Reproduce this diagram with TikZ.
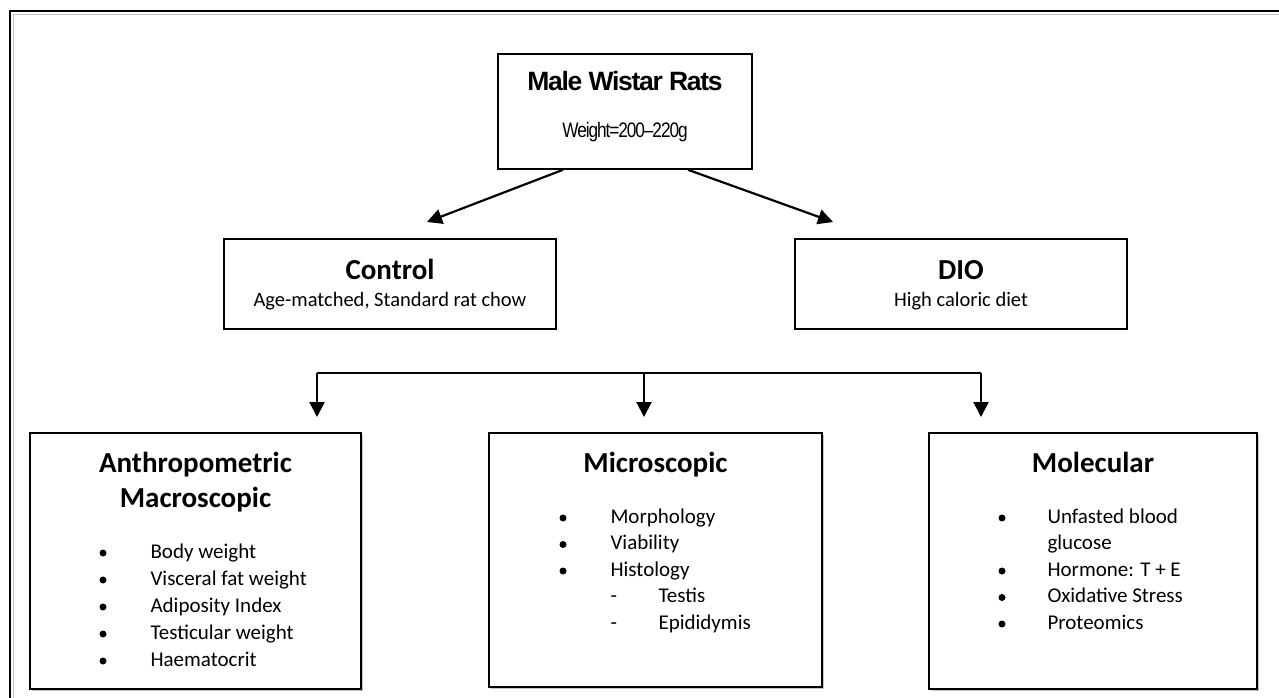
\documentclass[tikz,border=0pt]{standalone}
\usepackage{fontspec}
\usepackage{tikz}
\usetikzlibrary{arrows.meta,shadows}
\newfontfamily\arialtight[LetterSpace=-4.8]{Liberation Sans}
\newfontfamily\arialnarrow[FakeStretch=0.82,LetterSpace=-5]{Liberation Sans}
\newfontfamily\calfont{Carlito}

\tikzset{
	box/.style={draw, line width=2pt, fill=white, inner sep=0pt},
	shbox/.style={box, drop shadow={shadow xshift=2pt, shadow yshift=-2pt, fill=gray!45, opacity=1}},
	arr/.style={-{Triangle[length=15pt,width=15pt]}, line width=2.2pt},
	bul/.style={circle, fill, inner sep=0pt, minimum size=7pt},
	head/.style={anchor=base, font=\calfont\bfseries\fontsize{29}{34}\selectfont},
	item/.style={anchor=base west, font=\calfont\fontsize{21}{26}\selectfont},
}

\begin{document}
\begin{tikzpicture}[x=1pt,y=-1pt]
				\useasboundingbox (0,0) rectangle (1279,698);
				\clip (0,0) rectangle (1279,698);
				% outer frame
				\draw[gray!50, line width=1pt] (13.5,720) -- (13.5,14.5) -- (1300,14.5);
				\draw[line width=2.2pt] (10,720) -- (10,11) -- (1300,11);
				
				% rats
				\node[box, line width=1.6pt, minimum width=254pt, minimum height=115pt] (rats) at (625,111.5) {};
				\node[anchor=base, font=\arialtight\bfseries\fontsize{26.5}{30}\selectfont] (ratsname) at (625,91) {Male Wistar Rats};
				\node[anchor=base, font=\arialnarrow\fontsize{21}{24}\selectfont] (ratswt) at (625,138) {Weight=200–220g};
				
				% groups
				\node[box, minimum width=332pt, minimum height=90pt] (ctrl) at (390,284) {};
				\node[anchor=base, font=\calfont\bfseries\fontsize{29}{32}\selectfont] (ctrlname) at (390,279) {Control};
				\node[anchor=base, font=\calfont\fontsize{20.5}{24}\selectfont] (ctrldiet) at (390,306) {Age-matched, Standard rat chow};
				\node[box, minimum width=332pt, minimum height=90pt] (dio) at (961,284) {};
				\node[anchor=base, font=\calfont\bfseries\fontsize{29}{32}\selectfont] (dioname) at (961,279) {DIO};
				\node[anchor=base, font=\calfont\fontsize{20.5}{24}\selectfont] (diodiet) at (961,306) {High caloric diet};
				
				\coordinate (ctrlend) at (427,222);
				\coordinate (dioend) at (833,222);
				\draw[arr] ([xshift=-62pt]rats.south) -- (ctrlend);
				\draw[arr] ([xshift=63pt]rats.south) -- (dioend);
				
				% branch
				\coordinate (brl) at (317,373);
				\coordinate (brm) at (644,373);
				\coordinate (brr) at (981,373);
				\coordinate (anthin) at (317,417);
				\coordinate (microin) at (644,417);
				\coordinate (molecin) at (981,417);
				\draw[line width=2pt] (brl) -- (brr);
				\draw[arr] (brl) -- (anthin);
				\draw[arr] (brm) -- (microin);
				\draw[arr] (brr) -- (molecin);
				
				% anthropometric
				\node[shbox, minimum width=331pt, minimum height=256pt] (anth) at (195.5,561) {};
				\node[head] (anthname) at (195.5,472) {Anthropometric};
				\node[head] (macroname) at (195.5,507) {Macroscopic};
				\foreach \txt [count=\i] in {Body weight, Visceral fat weight, Adiposity Index, Testicular weight, Haematocrit}{
					\node[item] (anth\i) at (147,531+27*\i) {\txt};
					\node[bul] (anthb\i) at (103,526+27*\i) {};
				}
				
				% microscopic
				\node[shbox, minimum width=333pt, minimum height=254pt] (micro) at (655.5,560) {};
				\node[head] (microname) at (655.5,472) {Microscopic};
				\foreach \txt [count=\i] in {Morphology, Viability, Histology}{
					\node[item] (micro\i) at (607,496.5+26.5*\i) {\txt};
					\node[bul] (microb\i) at (563,491.5+26.5*\i) {};
				}
				\node[item] (testis) at (655,602.5) {Testis};
				\node[item] (epid) at (655,629) {Epididymis};
				\node[item] (testisd) at (607,602.5) {-};
				\node[item] (epidd) at (607,629) {-};
				
				% molecular
				\node[shbox, minimum width=328pt, minimum height=256pt] (molec) at (1093,561) {};
				\node[head] (molecname) at (1093,472) {Molecular};
				\node[item] (molec1) at (1044,523) {Unfasted blood};
				\node[item] (molec2) at (1044,549.5) {glucose};
				\node[bul] (molecb1) at (1002,518) {};
				\foreach \txt [count=\i from 3] in {Hormone: T + E, Oxidative Stress, Proteomics}{
					\node[item] (molec\i) at (1044,496.5+26.5*\i) {\txt};
					\node[bul] (molecb\i) at (1002,491.5+26.5*\i) {};
				}
			\end{tikzpicture}
\end{document}
